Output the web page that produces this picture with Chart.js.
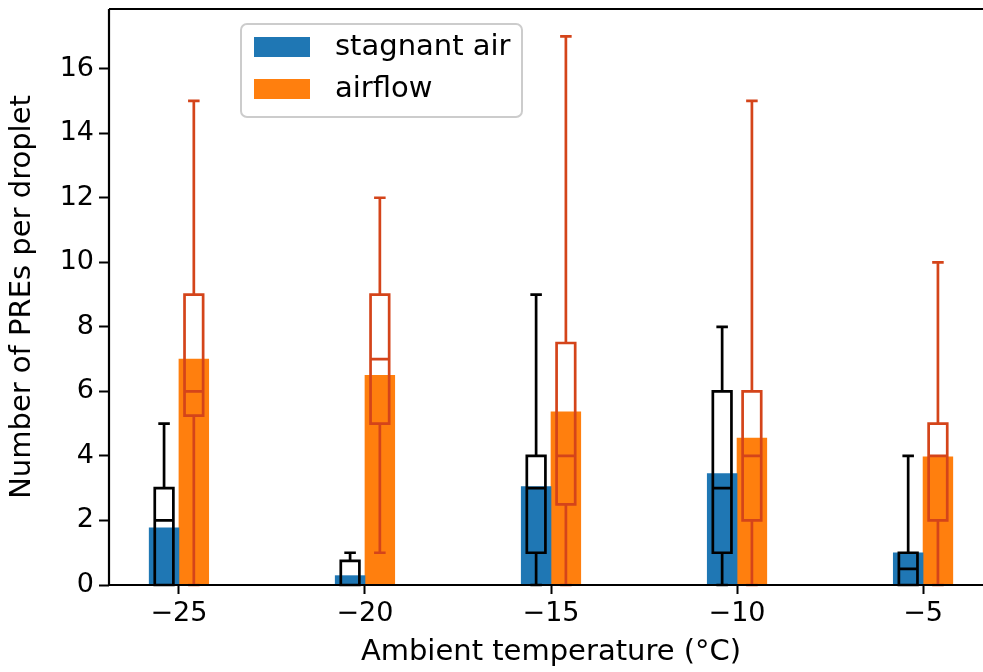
<!DOCTYPE html>
<html>
<head>
<meta charset="utf-8">
<title>PREs per droplet</title>
<script src="https://cdn.jsdelivr.net/npm/chart.js@4.4.0/dist/chart.umd.min.js"></script>
<style>
  html, body { margin: 0; padding: 0; background: #fff; overflow: hidden; }
  #wrap { width: 1000px; height: 672px; }
</style>
</head>
<body>
<div id="wrap"><canvas id="pres-chart" width="1000" height="672"></canvas></div>
<script>
// ambient temperature groups
const temperatures = [-25, -20, -15, -10, -5];
const xTicks = [-25, -20, -15, -10, -5];
const yTicks = [0, 2, 4, 6, 8, 10, 12, 14, 16];

// bar heights
const stagnantMean = [1.77, 0.29, 3.05, 3.45, 1.0];
const airflowMean = [7.0, 6.5, 5.37, 4.55, 3.97];

// box plot stats, stagnant air
const stagnantMin = [0, 0, 0, 0, 0];
const stagnantQ1 = [0, 0, 1, 1, 0];
const stagnantMedian = [2, 0, 3, 3, 0.5];
const stagnantQ3 = [3, 0.75, 4, 6, 1];
const stagnantMax = [5, 1, 9, 8, 4];

// box plot stats, airflow
const airflowMin = [0, 1, 0, 0, 0];
const airflowQ1 = [5.25, 5, 2.5, 2, 2];
const airflowMedian = [6, 7, 4, 4, 4];
const airflowQ3 = [9, 9, 7.5, 6, 5];
const airflowMax = [15, 12, 17, 15, 10];

const barWidth = 0.8;   // in x units, bars sit on each side of the tick
const boxWidth = 0.5;
const blue = '#1f77b4';
const orange = '#ff7f0e';
const boxRed = '#d4441a';

const minus = v => String(v).replace('-', '\u2212');

const boxPlots = {
    id: 'boxPlots',
    afterDatasetsDraw(chart) {
        const {ctx, scales: {x, y}, chartArea} = chart;
        const groups = [
            {offset: -barWidth / 2, color: '#000', min: stagnantMin, q1: stagnantQ1, med: stagnantMedian, q3: stagnantQ3, max: stagnantMax},
            {offset: barWidth / 2, color: boxRed, min: airflowMin, q1: airflowQ1, med: airflowMedian, q3: airflowQ3, max: airflowMax}
        ];
        ctx.save();
        ctx.lineWidth = 2.7;
        groups.forEach(g => {
            ctx.strokeStyle = g.color;
            temperatures.forEach((t, i) => {
                const cx = x.getPixelForValue(t + g.offset);
                const half = x.getPixelForValue(t + g.offset + boxWidth / 2) - cx;
                const cap = half * 0.62;
                const yMin = y.getPixelForValue(g.min[i]);
                const yQ1 = y.getPixelForValue(g.q1[i]);
                const yMed = y.getPixelForValue(g.med[i]);
                const yQ3 = y.getPixelForValue(g.q3[i]);
                const yMax = y.getPixelForValue(g.max[i]);
                ctx.beginPath();
                // box
                ctx.rect(cx - half, yQ3, half * 2, yQ1 - yQ3);
                // median
                ctx.moveTo(cx - half, yMed); ctx.lineTo(cx + half, yMed);
                // whiskers
                ctx.moveTo(cx, yQ3); ctx.lineTo(cx, yMax);
                ctx.moveTo(cx, yQ1); ctx.lineTo(cx, yMin);
                // caps
                ctx.moveTo(cx - cap, yMax); ctx.lineTo(cx + cap, yMax);
                ctx.moveTo(cx - cap, yMin); ctx.lineTo(cx + cap, yMin);
                ctx.stroke();
            });
        });

        // spines
        ctx.strokeStyle = '#000';
        ctx.lineWidth = 2.2;
        ctx.beginPath();
        ctx.moveTo(chartArea.left, chartArea.top);
        ctx.lineTo(chartArea.right, chartArea.top);
        ctx.moveTo(chartArea.left, chartArea.top);
        ctx.lineTo(chartArea.left, chartArea.bottom);
        ctx.lineTo(chartArea.right, chartArea.bottom);
        ctx.stroke();
        ctx.restore();
    }
};

const boxLegend = {
    id: 'boxLegend',
    afterDraw(chart) {
        const {ctx} = chart;
        const left = 241, top = 24, w = 281, h = 93;
        ctx.save();
        ctx.fillStyle = 'rgba(255,255,255,0.8)';
        ctx.strokeStyle = '#cccccc';
        ctx.lineWidth = 2;
        ctx.beginPath();
        ctx.roundRect(left, top, w, h, 6);
        ctx.fill();
        ctx.stroke();
        ctx.font = '29px "DejaVu Sans"';
        ctx.textBaseline = 'middle';
        chart.data.datasets.forEach((ds, i) => {
            const rowY = top + 23 + i * 42;
            ctx.fillStyle = ds.backgroundColor;
            ctx.fillRect(left + 13, rowY - 10, 56, 20);
            ctx.fillStyle = '#000';
            ctx.fillText(ds.label, left + 94, rowY);
        });
        ctx.restore();
    }
};

Chart.defaults.font.family = "'DejaVu Sans', sans-serif";
Chart.defaults.font.size = 27;
Chart.defaults.color = '#000';

const ctx = document.getElementById('pres-chart').getContext('2d');
const presChart = new Chart(ctx, {
    type: 'bar',
    data: {
        datasets: [{
            label: 'stagnant air',
            data: temperatures.map((t, i) => ({x: t - barWidth / 2, y: stagnantMean[i]})),
            backgroundColor: blue,
            borderWidth: 0,
            grouped: false,
            barPercentage: 1,
            categoryPercentage: 1
        }, {
            label: 'airflow',
            data: temperatures.map((t, i) => ({x: t + barWidth / 2, y: airflowMean[i]})),
            backgroundColor: orange,
            borderWidth: 0,
            grouped: false,
            barPercentage: 1,
            categoryPercentage: 1
        }]
    },
    options: {
        responsive: false,
        animation: false,
        devicePixelRatio: 1,
        layout: {padding: {top: 9, right: 7, left: 0, bottom: 0}},
        plugins: {
            legend: {display: false},
            tooltip: {enabled: false}
        },
        scales: {
            x: {
                type: 'linear',
                min: -26.88,
                max: -3.12,
                offset: false,
                afterBuildTicks: s => { s.ticks = xTicks.map(v => ({value: v})); },
                afterFit: s => { s.height = 87; s.paddingLeft = 0; s.paddingRight = 0; },
                grid: {display: true, offset: false, drawOnChartArea: false, drawTicks: true, tickLength: 9, tickWidth: 2, tickColor: '#000'},
                border: {display: false},
                ticks: {padding: 4, autoSkip: false, maxRotation: 0, callback: v => minus(v)},
                title: {display: true, text: 'Ambient temperature (°C)', font: {size: 29}, padding: {top: 0, bottom: 2}}
            },
            y: {
                min: 0,
                max: 17.85,
                afterBuildTicks: s => { s.ticks = yTicks.map(v => ({value: v})); },
                afterFit: s => { s.width = 109; s.paddingTop = 0; s.paddingBottom = 0; },
                grid: {display: true, drawOnChartArea: false, drawTicks: true, tickLength: 10, tickWidth: 2, tickColor: '#000'},
                border: {display: false},
                ticks: {padding: 5, callback: v => minus(v)},
                title: {display: true, text: 'Number of PREs per droplet', font: {size: 29}, padding: {top: 5, bottom: 0}}
            }
        }
    },
    plugins: [boxPlots, boxLegend]
});
</script>
</body>
</html>
